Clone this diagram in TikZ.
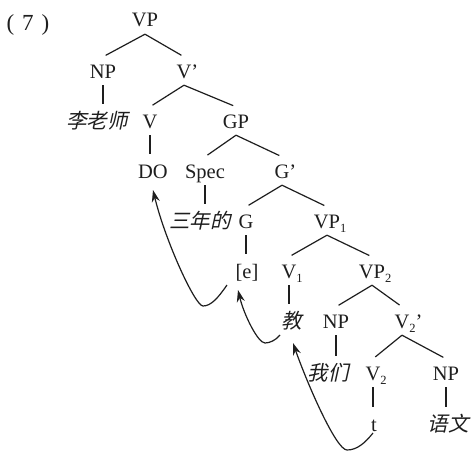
\documentclass[tikz,border=0pt]{standalone}
\usepackage{fontspec}
\setmainfont{Liberation Serif}
\newfontfamily\cjk[FakeSlant=0.22]{Noto Sans CJK SC}
\usetikzlibrary{arrows.meta,calc}
\definecolor{ink}{RGB}{30,30,30}
\newcommand{\sbs}[1]{\rlap{\raisebox{-4.5pt}{\fontsize{12.5}{12}\selectfont #1}}}
\newcommand{\sbsq}[1]{\rlap{\raisebox{-4.5pt}{\fontsize{12.5}{12}\selectfont #1}’}}
\begin{document}
\begin{tikzpicture}[x=1pt,y=-1pt,
  lab/.style={text=ink, font=\fontsize{20.5}{21}\selectfont, text height=14pt, text depth=0pt, inner xsep=0pt, inner ysep=7pt},
  br/.style={draw=ink, line width=1.2pt, shorten >=3pt},
  mv/.style={draw=ink, line width=1.2pt, -{Stealth[length=12pt,width=8pt]}}]
\useasboundingbox (0,0) rectangle (471,452);
\fill[white] (0,0) rectangle (471,452);
% nodes
\node[lab, font=\fontsize{23}{24}\selectfont] (num) at (28,24) {(\hspace{8pt}7\hspace{8pt})};
\node[lab] (VP)    at (145,20)  {VP};
\node[lab] (NP)    at (103,71)  {NP};
\node[lab] (Vbar)  at (184,71)  {V\rlap{’}};
\node[lab] (Li)    at (97,121)  {\cjk 李老师};
\node[lab] (V)     at (150,121) {V};
\node[lab] (GP)    at (236,121) {GP};
\node[lab] (DO)    at (153,171) {DO};
\node[lab] (Spec)  at (205,171) {Spec};
\node[lab] (Gbar)  at (282,171) {G\rlap{’}};
\node[lab] (San)   at (200,221) {\cjk 三年的};
\node[lab] (G)     at (246,221) {G};
\node[lab] (VPa)   at (327,221) {VP\sbs{1}};
\node[lab] (e)     at (247,271) {[e]};
\node[lab] (Va)    at (289,271) {V\sbs{1}};
\node[lab] (VPb)   at (372,271) {VP\sbs{2}};
\node[lab] (jiao)  at (292,321) {\cjk 教};
\node[lab] (NPb)   at (336,321) {NP};
\node[lab] (Vbbar) at (402,321) {V\sbsq{2}};
\node[lab] (women) at (328,373) {\cjk 我们};
\node[lab] (Vb)    at (373,373) {V\sbs{2}};
\node[lab] (NPc)   at (446,373) {NP};
\node[lab] (t)     at (374,424) {t};
\node[lab] (yuwen) at (448,424) {\cjk 语文};
% branches
\foreach \p/\c in {VP/NP, VP/Vbar, Vbar/V, Vbar/GP, GP/Spec, GP/Gbar,
  Gbar/G, Gbar/VPa, VPa/Va, VPa/VPb, VPb/NPb, VPb/Vbbar, Vbbar/Vb, Vbbar/NPc}
  \draw[br] (\p.south) -- (\c.north);
\foreach \p/\c in {NP/Li, V/DO, Spec/San, G/e, Va/jiao, NPb/women, Vb/t, NPc/yuwen}
  \draw[br] (\p.south) -- (\p.south |- \c.north);
% movement arrows
\coordinate (s1) at ($(e)+(-20,14)$);
\coordinate (b1) at ($(e)+(-44,35)$);
\coordinate (t1) at ($(DO)+(0,19)$);
\coordinate (s2) at ($(jiao)+(-12,14)$);
\coordinate (b2) at ($(jiao)+(-27,22)$);
\coordinate (t2) at ($(e)+(-9,19)$);
\coordinate (s3) at ($(t)+(-1,9)$);
\coordinate (b3) at ($(t)+(-27,26)$);
\coordinate (t3) at ($(jiao)+(1,22)$);
\draw[mv] (s1) .. controls +(-9,13) and +(8,0) .. (b1) .. controls +(-8,0) and +(12,50) .. (t1);
\draw[mv] (s2) .. controls +(-4,5) and +(5,0) .. (b2) .. controls +(-7,0) and +(6,25) .. (t2);
\draw[mv] (s3) .. controls +(-8,10) and +(10,0) .. (b3) .. controls +(-11,0) and +(14,40) .. (t3);
\end{tikzpicture}
\end{document}
